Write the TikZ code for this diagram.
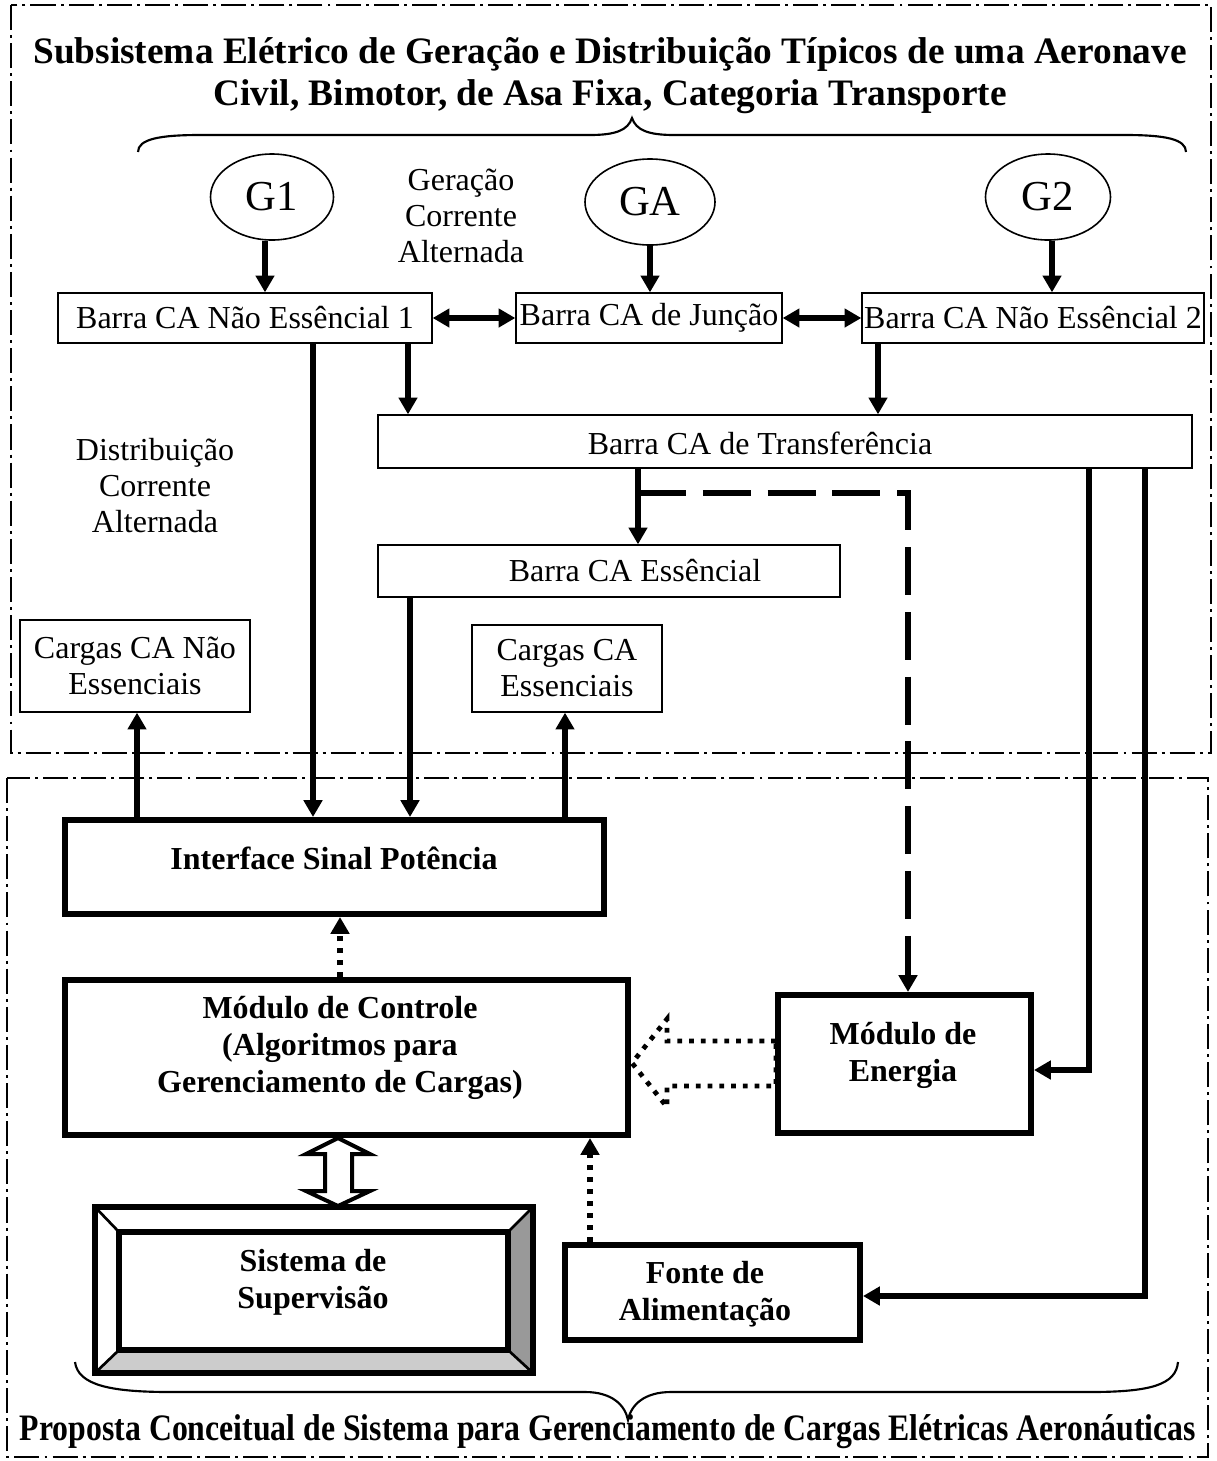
\documentclass[tikz,border=0pt]{standalone}
\usepackage{fontspec}
\setmainfont{Liberation Serif}
\usepackage{graphicx}
\usetikzlibrary{arrows.meta,shapes.geometric,calc}

\begin{document}
\begin{tikzpicture}[x=0.375pt,y=-0.375pt,
  every node/.style={font=\fontsize{12}{13.5}\selectfont, align=center, inner sep=0pt},
  wh/.style 2 args={minimum width=#1*0.375pt, minimum height=#2*0.375pt},
  thinbox/.style={draw, rectangle, line width=0.5pt},
  thickbox/.style={draw, rectangle, line width=2.25pt},
  bold/.style={font=\fontsize{12}{13.9}\selectfont\bfseries},
  gen/.style={draw, ellipse, line width=0.6pt, font=\fontsize{16}{18}\selectfont},
  tip/.style={-{Triangle[length=6.3pt,width=6.8pt]}},
  conn/.style={line width=1.9pt, line join=miter, tip},
  both/.style={line width=1.9pt, {Triangle[length=6.3pt,width=6.8pt]}-{Triangle[length=6.3pt,width=6.8pt]}},
  dotconn/.style={line width=1.9pt, dash pattern=on 1.9pt off 2.6pt, tip},
  dashconn/.style={line width=1.9pt, dash pattern=on 18pt off 6.3pt, tip},
  frame/.style={line width=1.1pt, dash pattern=on 9.4pt off 1.9pt on 1.1pt off 1.9pt},
  brace/.style={line width=0.8pt},
]
\useasboundingbox (0,0) rectangle (1216,1461);

% dash-dot frames of the two subsystems
\draw[frame] (11,5) rectangle (1211,753);
\draw[frame] (7,778) rectangle (1208,1457);

% heading of the electrical subsystem
\node[font=\fontsize{14}{15.75}\selectfont\bfseries] (title) at (610,76)
  {Subsistema Elétrico de Geração e Distribuição Típicos de uma Aeronave\\Civil, Bimotor, de Asa Fixa, Categoria Transporte};
\draw[brace] (138,152) .. controls (138,139) and (160,135) .. (200,135) -- (590,135)
  .. controls (616,135) and (628,130) .. (632,118)
  .. controls (636,130) and (648,135) .. (674,135) -- (1125,135)
  .. controls (1165,135) and (1186,139) .. (1186,152);

% generators
\node[gen, wh={123}{86}] (g1) at (272,197) {G1};
\node[gen, wh={130}{86}] (ga) at (650,202) {GA};
\node[gen, wh={125}{86}] (g2) at (1048,197) {G2};
\node (lgen) at (461,216) {Geração\\Corrente\\Alternada};
\node (ldist) at (155,486) {Distribuição\\Corrente\\Alternada};

% AC buses
\node[thinbox, wh={374}{50}] (b1) at (245,318) {Barra CA Não Essêncial 1};
\node[thinbox, wh={266}{50}] (bj) at (649,318) {Barra CA de Junção};
\node[thinbox, wh={342}{50}] (b2) at (1033,318) {Barra CA Não Essêncial 2};
\node[thinbox, wh={814}{53}] (bt) at (785,441.5) {};
\node (tbt) at (760,443) {Barra CA de Transferência};
\node[thinbox, wh={462}{52}] (be) at (609,571) {};
\node (tbe) at (635,571) {Barra CA Essêncial};
\node[thinbox, wh={230}{92}] (cne) at (135,666) {Cargas CA Não\\Essenciais};
\node[thinbox, wh={190}{87}] (ce) at (567,668.5) {Cargas CA\\Essenciais};

% management system blocks
\node[thickbox, wh={539}{94}] (iface) at (334.5,867) {};
\node[bold] (tiface) at (334,858) {Interface Sinal Potência};
\node[thickbox, wh={563}{155}] (ctrl) at (346.5,1057.5) {};
\node[bold] (tctrl) at (340,1048) {Módulo de Controle\\(Algoritmos para\\Gerenciamento de Cargas)};
\node[thickbox, wh={253}{138}] (energia) at (904.5,1064) {};
\node[bold] (tenergia) at (903,1055) {Módulo de\\Energia};
\node[thickbox, wh={295}{95}] (fonte) at (712.5,1292.5) {};
\node[bold] (tfonte) at (705,1294) {Fonte de\\Alimentação};

% supervision system: bevelled frame
\node[wh={438}{166}] (sup) at (314,1290) {};
\fill[black!40] (533,1207) -- (533,1373) -- (508,1350) -- (508,1232) -- cycle;
\fill[black!20] (95,1373) -- (533,1373) -- (508,1350) -- (119,1350) -- cycle;
\draw[line width=1pt] (95,1207) -- (119,1232) (533,1207) -- (508,1232)
  (95,1373) -- (119,1350) (533,1373) -- (508,1350);
\draw[line width=2.25pt] (95,1207) rectangle (533,1373);
\draw[line width=2.25pt] (119,1232) rectangle (508,1350);
\node[bold] (tsup) at (313,1282) {Sistema de\\Supervisão};

% x positions of the vertical connectors
\coordinate (xg1) at (265,0);
\coordinate (xg2) at (1052,0);
\coordinate (xb1t) at (408,0);
\coordinate (xb2t) at (878,0);
\coordinate (xb1i) at (313,0);
\coordinate (xbei) at (410,0);
\coordinate (xcne) at (137,0);
\coordinate (xce) at (565,0);
\coordinate (xbte) at (638,0);
\coordinate (xdash) at (908,0);
\coordinate (xen) at (1089,0);
\coordinate (xfo) at (1145,0);
\coordinate (xdot1) at (340,0);
\coordinate (xdot2) at (590,0);
\coordinate (ybr) at (0,493);
\coordinate (yen) at (0,1070);
\coordinate (yfo) at (0,1296);

% generation and distribution
\draw[conn] (g1.south -| xg1) -- (b1.north -| xg1);
\draw[conn] (ga.south) -- (bj.north -| ga.south);
\draw[conn] (g2.south -| xg2) -- (b2.north -| xg2);
\draw[both] (b1.east) -- (bj.west);
\draw[both] (bj.east) -- (b2.west);
\draw[conn] (b1.south -| xb1t) -- (bt.north -| xb1t);
\draw[conn] (b2.south -| xb2t) -- (bt.north -| xb2t);
\draw[conn] (b1.south -| xb1i) -- (iface.north -| xb1i);
\draw[conn] (be.south -| xbei) -- (iface.north -| xbei);
\draw[conn] (iface.north -| xcne) -- (cne.south -| xcne);
\draw[conn] (iface.north -| xce) -- (ce.south -| xce);
\draw[conn] (bt.south -| xbte) -- (be.north -| xbte);
\draw[dashconn] (xbte |- ybr) -- (xdash |- ybr) -- (energia.north -| xdash);
\draw[conn] (bt.south -| xen) -- (xen |- yen) -- (energia.east |- yen);
\draw[conn] (bt.south -| xfo) -- (xfo |- yfo) -- (fonte.east |- yfo);

% signal paths
\draw[dotconn] (ctrl.north -| xdot1) -- (iface.south -| xdot1);
\draw[dotconn] (fonte.north -| xdot2) -- (ctrl.south -| xdot2);
\draw[line width=1.8pt, dash pattern=on 1.8pt off 2.6pt]
  (776,1041) -- (667,1041) -- (667,1019) -- (632,1063) -- (667,1107) -- (667,1086) -- (776,1086) -- cycle;
\draw[line width=1.5pt, fill=white, line join=miter]
  (338,1138) -- (370,1154) -- (352,1154) -- (352,1191) -- (370,1191) -- (338,1206)
  -- (306,1191) -- (325,1191) -- (325,1154) -- (306,1154) -- cycle;

% heading of the proposed system
\draw[brace] (75,1362) .. controls (78,1385) and (110,1392) .. (170,1392) -- (585,1392)
  .. controls (612,1392) and (625,1405) .. (628,1420)
  .. controls (631,1405) and (644,1392) .. (671,1392) -- (1090,1392)
  .. controls (1150,1392) and (1176,1385) .. (1178,1362);
\node (bottomtitle) at (608,1432)
  {\resizebox{441pt}{\height}{\fontsize{14}{16}\selectfont\bfseries Proposta Conceitual de Sistema para Gerenciamento de Cargas Elétricas Aeronáuticas}};
\end{tikzpicture}
\end{document}
